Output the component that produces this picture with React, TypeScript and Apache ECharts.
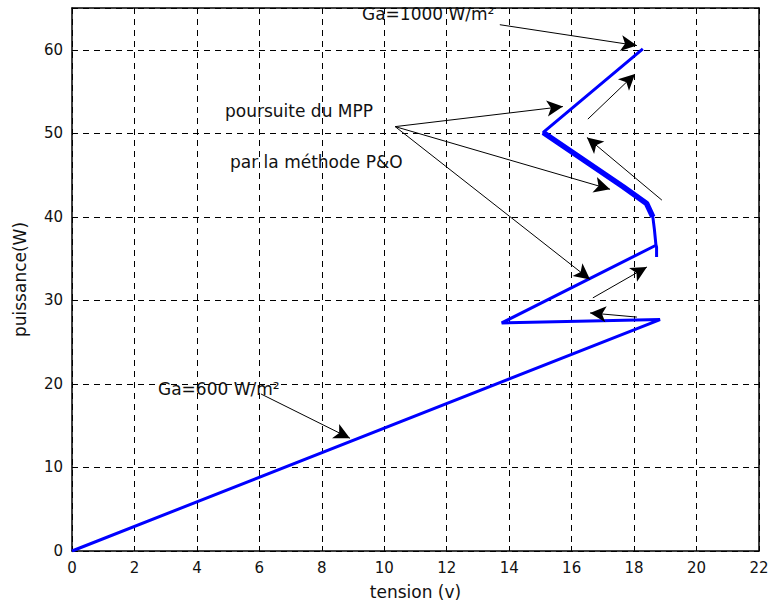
import React, { useEffect, useRef } from "react";
import * as echarts from "echarts";

// Trajectory of the operating point (tension V, puissance W)
const tension = [0, 18.83, 13.76, 18.7, 18.65, 18.6, 18.4, 17.65, 15.09, 18.28];
const puissance = [0, 27.7, 27.3, 36.6, 38.5, 40.0, 41.6, 43.6, 50.1, 60.1];
// Segment drawn thicker (oscillations around the MPP)
const thickTension = [18.6, 18.4, 17.65, 15.09];
const thickPuissance = [40.0, 41.6, 43.6, 50.1];
const stubTension = [18.7, 18.72, 18.72];
const stubPuissance = [36.6, 36.4, 35.2];

// Axis ranges
const xMin = 0, xMax = 22, xStep = 2;
const yMin = 0, yMax = 65, yStep = 10;

// Annotation arrows: [start, end] in data coordinates
const arrowStarts = [
  [13.7, 63.0], [10.35, 50.8], [10.35, 50.8], [10.35, 50.8], [6.05, 18.8],
  [16.52, 51.7], [18.89, 42.0], [16.68, 30.3], [18.09, 28.0],
];
const arrowEnds = [
  [18.09, 60.5], [15.72, 53.2], [17.23, 43.3], [16.59, 32.5], [8.9, 13.5],
  [18.03, 57.1], [16.49, 49.5], [18.41, 34.0], [16.59, 28.5],
];

// Annotation texts
const texts = ["Ga=1000 W/m²", "poursuite du MPP", "par la méthode P&O", "Ga=600 W/m²"];

const FONT = "DejaVu Sans";

export default function App() {
  const ref = useRef<HTMLDivElement>(null);
  useEffect(() => {
    if (!ref.current) return;
    const chart = echarts.init(ref.current, null, { renderer: "svg" });
    const axisCommon = {
      type: "value" as const,
      axisLine: { show: true, onZero: false, lineStyle: { color: "#000", width: 1.5 } },
      axisTick: { show: true, inside: true, length: 5, lineStyle: { color: "#000", width: 1 } },
    };
    const option: any = {
      animation: false,
      backgroundColor: "#fff",
      grid: { left: 72, top: 8, right: 13, bottom: 59, containLabel: false },
      xAxis: [
        {
          ...axisCommon,
          position: "bottom",
          min: xMin, max: xMax, interval: xStep,
          axisLabel: { color: "#111", fontSize: 15, fontFamily: FONT, margin: 9 },
          splitLine: { show: true, lineStyle: { color: "#000", width: 1, type: [6, 5] } },
          name: "tension (v)",
          nameLocation: "middle",
          nameGap: 32,
          nameTextStyle: { color: "#111", fontSize: 17, fontFamily: FONT },
        },
        {
          ...axisCommon,
          position: "top",
          min: xMin, max: xMax, interval: xStep,
          axisLabel: { show: false },
          splitLine: { show: false },
        },
      ],
      yAxis: [
        {
          ...axisCommon,
          position: "left",
          min: yMin, max: yMax, interval: yStep,
          axisLabel: { color: "#111", fontSize: 15, fontFamily: FONT, margin: 9, showMaxLabel: false },
          splitLine: { show: true, lineStyle: { color: "#000", width: 1, type: [6, 5] } },
          name: "puissance(W)",
          nameLocation: "middle",
          nameGap: 44,
          nameTextStyle: { color: "#111", fontSize: 17, fontFamily: FONT },
        },
        {
          ...axisCommon,
          position: "right",
          min: yMin, max: yMax, interval: yStep,
          axisLabel: { show: false },
          splitLine: { show: false },
        },
      ],
      series: [
        {
          type: "line",
          xAxisIndex: 0, yAxisIndex: 0,
          data: tension.map((x, i) => [x, puissance[i]]),
          showSymbol: false,
          symbol: "none",
          lineStyle: { color: "#0000ff", width: 3 },
          z: 3,
        },
        {
          type: "line",
          data: thickTension.map((x, i) => [x, thickPuissance[i]]),
          symbol: "none",
          lineStyle: { color: "#0000ff", width: 5.5 },
          z: 3,
        },
        {
          type: "line",
          data: stubTension.map((x, i) => [x, stubPuissance[i]]),
          symbol: "none",
          lineStyle: { color: "#0000ff", width: 3 },
          z: 3,
        },
        {
          type: "line",
          data: [],
          symbol: "none",
          z: 4,
          markLine: {
            silent: true,
            symbol: ["none", "arrow"],
            symbolSize: [12, 16],
            label: { show: false },
            lineStyle: { color: "#000", width: 1, type: "solid" },
            data: arrowStarts.map((s, i) => [{ coord: s }, { coord: arrowEnds[i] }]),
          },
        },
      ],
      graphic: [
        { type: "text", left: 362, top: 5, style: { text: texts[0], fontSize: 17, fontFamily: FONT, fill: "#111" }, z: 10 },
        { type: "text", left: 225, top: 102, style: { text: texts[1], fontSize: 17, fontFamily: FONT, fill: "#111" }, z: 10 },
        { type: "text", left: 230, top: 153, style: { text: texts[2], fontSize: 17, fontFamily: FONT, fill: "#111" }, z: 10 },
        { type: "text", left: 158, top: 380, style: { text: texts[3], fontSize: 17, fontFamily: FONT, fill: "#111" }, z: 10 },
      ],
    };
    chart.setOption(option);
    return () => chart.dispose();
  }, []);
  return <div ref={ref} style={{ width: 772, height: 610, position: "absolute", left: 0, top: 0, background: "#fff" }} />;
}
